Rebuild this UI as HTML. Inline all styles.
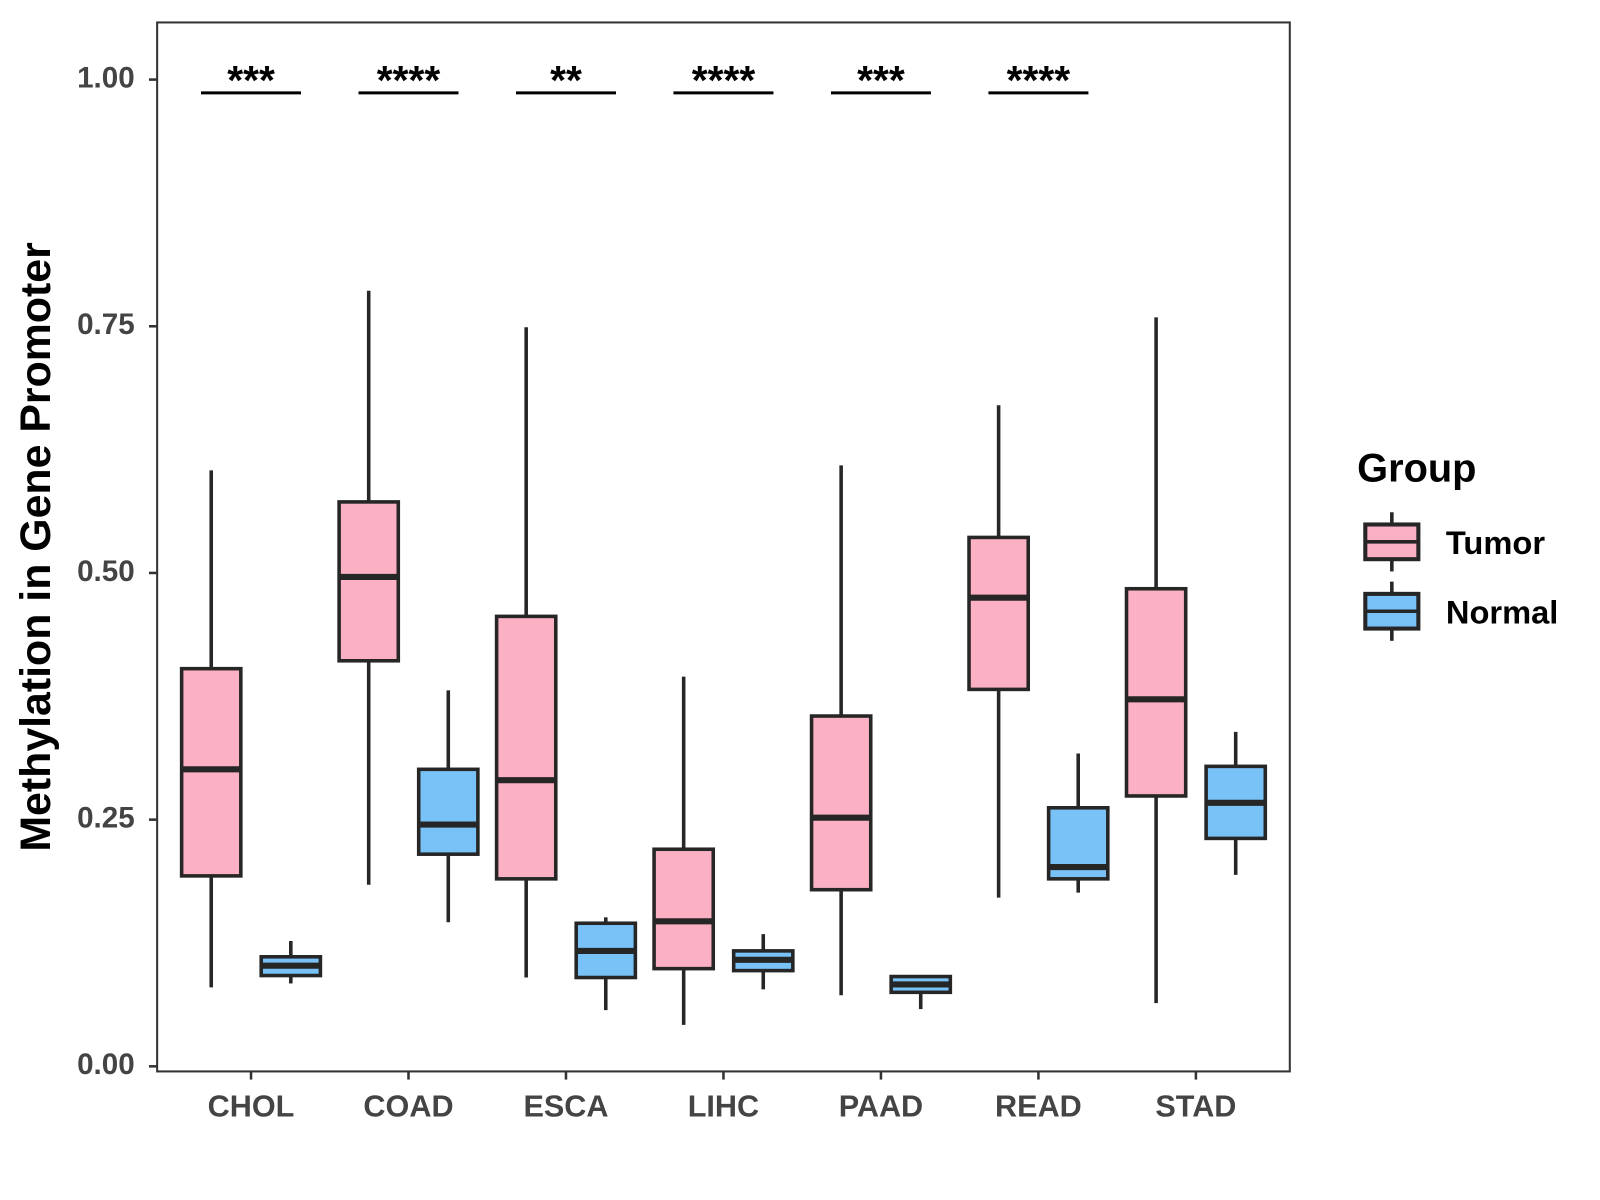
<!DOCTYPE html>
<html><head><meta charset="utf-8"><style>
html,body{margin:0;padding:0;background:#fff;}
svg{display:block;font-family:"Liberation Sans",Arial,sans-serif;}
</style></head><body>
<svg id="chart" width="1600" height="1200" viewBox="0 0 1568 1176" xmlns="http://www.w3.org/2000/svg">
<rect x="0" y="0" width="1568" height="1176" fill="#fff"/>
<g id="plot"></g>
<text x="38" y="536" transform="rotate(-90 38 536)" text-anchor="middle" dominant-baseline="middle" font-size="42" font-weight="bold" fill="#000">Methylation in Gene Promoter</text>
<g>
<text x="1330" y="472" font-size="39" font-weight="bold" fill="#000">Group</text>
<g>
<line x1="1364" y1="502" x2="1364" y2="560" stroke="#262626" stroke-width="3.5"/>
<rect x="1338" y="514" width="52" height="34" fill="#FBB1C3" stroke="#262626" stroke-width="4"/>
<line x1="1338" y1="531" x2="1390" y2="531" stroke="#262626" stroke-width="3.5"/>
<text x="1417" y="543" font-size="32" font-weight="bold" fill="#000">Tumor</text>
</g>
<g>
<line x1="1364" y1="570" x2="1364" y2="628" stroke="#262626" stroke-width="3.5"/>
<rect x="1338" y="582" width="52" height="34" fill="#78C2F8" stroke="#262626" stroke-width="4"/>
<line x1="1338" y1="599" x2="1390" y2="599" stroke="#262626" stroke-width="3.5"/>
<text x="1417" y="611" font-size="32" font-weight="bold" fill="#000">Normal</text>
</g>
</g>
</svg>
<script>
const categories = ["CHOL","COAD","ESCA","LIHC","PAAD","READ","STAD"];
const tumorLow  = [0.080,0.184,0.090,0.042,0.072,0.171,0.064];
const tumorQ1   = [0.193,0.411,0.190,0.099,0.179,0.382,0.274];
const tumorMed  = [0.301,0.496,0.290,0.147,0.252,0.475,0.372];
const tumorQ3   = [0.403,0.572,0.456,0.220,0.355,0.536,0.484];
const tumorHigh = [0.604,0.786,0.749,0.395,0.609,0.670,0.759];
const normalLow  = [0.084,0.146,0.057,0.078,0.058,0.176,0.194];
const normalQ1   = [0.092,0.215,0.090,0.097,0.075,0.190,0.231];
const normalMed  = [0.102,0.245,0.117,0.108,0.083,0.202,0.267];
const normalQ3   = [0.111,0.301,0.145,0.117,0.091,0.262,0.304];
const normalHigh = [0.127,0.381,0.151,0.134,0.091,0.317,0.339];
const yTicks = [0,0.25,0.5,0.75,1.0];
const yTickLabels = ["0.00","0.25","0.50","0.75","1.00"];
const sigLabels = ["***","****","**","****","***","****"];

const NS="http://www.w3.org/2000/svg";
const g=document.getElementById('plot');
const PL=154,PR=1264,PT=22,PB=1050;
const yScale=v=>1045-v*967;
const xScale=i=>246+i*154.33;
function mk(tag,attrs,parent){const e=document.createElementNS(NS,tag);for(const k in attrs)e.setAttribute(k,attrs[k]);(parent||g).appendChild(e);return e;}

const frame=mk('rect',{x:PL,y:PT,width:PR-PL,height:PB-PT,fill:'none',stroke:'#333',"stroke-width":2});



yTicks.forEach((t,i)=>{
  const y=yScale(t);
  const tk=mk('line',{x1:PL-8,y1:y,x2:PL,y2:y,stroke:'#333',"stroke-width":2.5});
  
  
  const tx=mk('text',{x:132,y:y,"text-anchor":"end","dominant-baseline":"middle","font-size":29,"font-weight":"bold",fill:'#444'});
  tx.textContent=yTickLabels[i];
  
  
});
categories.forEach((c,i)=>{
  const x=xScale(i);
  const tk=mk('line',{x1:x,y1:PB,x2:x,y2:PB+8,stroke:'#333',"stroke-width":2.5});
  
  
  const tx=mk('text',{x:x,y:1094,"text-anchor":"middle","font-size":30,"font-weight":"bold",fill:'#444'});
  tx.textContent=c;
  
  
});
function box(cx,lo,q1,md,q3,hi,fill,name){
  const bg=mk('g',{});
  
  
  const w=58;
  mk('line',{x1:cx,y1:yScale(hi),x2:cx,y2:yScale(lo),stroke:'#262626',"stroke-width":3.5},bg);
  mk('rect',{x:cx-w/2,y:yScale(q3),width:w,height:Math.max(1,yScale(q1)-yScale(q3)),fill:fill,stroke:'#262626',"stroke-width":3.5},bg);
  mk('line',{x1:cx-w/2,y1:yScale(md),x2:cx+w/2,y2:yScale(md),stroke:'#262626',"stroke-width":6},bg);
}
categories.forEach((c,i)=>{
  const x=xScale(i);
  box(x-39,tumorLow[i],tumorQ1[i],tumorMed[i],tumorQ3[i],tumorHigh[i],'#FBB1C3','box-tumor-'+c.toLowerCase());
  box(x+39,normalLow[i],normalQ1[i],normalMed[i],normalQ3[i],normalHigh[i],'#78C2F8','box-normal-'+c.toLowerCase());
});
sigLabels.forEach((s,i)=>{
  const x=xScale(i);
  const ln=mk('line',{x1:x-49,y1:91,x2:x+49,y2:91,stroke:'#000',"stroke-width":3});
  
  
  const tx=mk('text',{x:x,y:92,"text-anchor":"middle","font-size":40,"font-weight":"bold",fill:'#000'});
  tx.textContent=s;
  
  
});
</script>
</body></html>
